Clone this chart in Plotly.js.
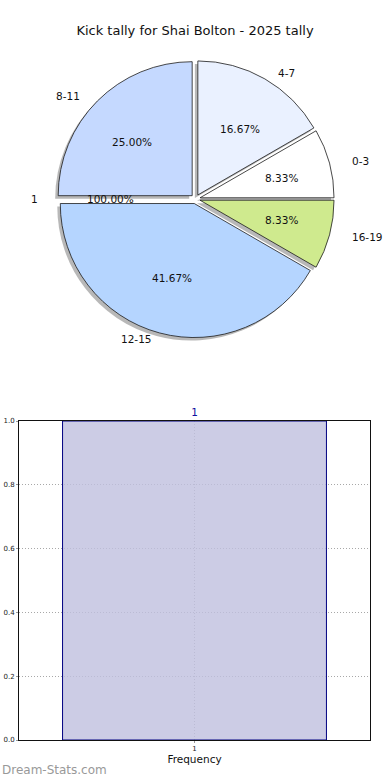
<!DOCTYPE html>
<html>
<head>
<meta charset="utf-8">
<script src="https://cdn.plot.ly/plotly-3.0.1.min.js"></script>
<style>
  html, body { margin: 0; padding: 0; background: #ffffff; }
  #chart { width: 390px; height: 780px; }
</style>
</head>
<body>
<div id="chart"></div>
<script>
// ---- data ----
const sliceLabels = ['0-3', '4-7', '8-11', '12-15', '16-19'];
const sliceValues = [1, 2, 3, 5, 1];
const sliceColors = ['#ffffff', '#eaf1ff', '#c5d9ff', '#b5d5ff', '#cfea8e'];
const extraLabels = ['1'];
const extraValues = [1];
const barX = [1];
const barY = [1];
const barText = ['1'];
const yTickVals = [0, 0.2, 0.4, 0.6, 0.8, 1.0];
const xTickVals = [1];
const xTickText = ['1'];
const titleText = 'Kick tally for Shai Bolton - 2025 tally';

// ---- geometry (layout only) ----
const W = 390, H = 780;
const CX = 195.5, CY = 199;      // pie centre, px
const R = 134;                   // plotted pie radius, px
const RX = 141, RY = 128;        // text placement radii (reference ellipse)
const PULL = 0.035;
const ROT = 60;                  // first slice starts at 3 o'clock, counterclockwise
const FONT = 'DejaVu Sans, Verdana, sans-serif';

const half = R * (1 + PULL);
const pieDomain = {
  x: [(CX - half) / W, (CX + half) / W],
  y: [1 - (CY + half) / H, 1 - (CY - half) / H]
};
const shadowDomain = {
  x: [pieDomain.x[0] - 3 / W, pieDomain.x[1] - 3 / W],
  y: [pieDomain.y[0] - 3 / H, pieDomain.y[1] - 3 / H]
};

const pulls = sliceValues.map(() => PULL);

const shadow = {
  type: 'pie', values: sliceValues, labels: sliceLabels, sort: false,
  direction: 'counterclockwise', rotation: ROT, pull: pulls,
  domain: shadowDomain, textinfo: 'none', hoverinfo: 'skip', showlegend: false,
  marker: { colors: sliceValues.map(() => '#8a8a8a'), line: { width: 0 } },
  opacity: 0.6
};
const pie = {
  type: 'pie', values: sliceValues, labels: sliceLabels, sort: false,
  direction: 'counterclockwise', rotation: ROT, pull: pulls,
  domain: pieDomain, textinfo: 'none', hoverinfo: 'label+percent', showlegend: false,
  marker: { colors: sliceColors, line: { color: '#1a1a1a', width: 0.8 } }
};

const bar = {
  type: 'bar', x: barX, y: barY, width: 0.8, xaxis: 'x', yaxis: 'y',
  marker: { color: 'rgba(191,191,222,0.8)', line: { color: '#000080', width: 1 } },
  text: barText, textposition: 'outside', cliponaxis: false,
  textfont: { family: FONT, size: 10.5, color: '#1010a0' },
  hoverinfo: 'x+y', showlegend: false
};

// ---- pie text annotations (matplotlib style) ----
function pieAnnotations(values, labels, explode) {
  const total = values.reduce((a, b) => a + b, 0);
  const out = [];
  let start = 0;
  values.forEach((v, i) => {
    const frac = v / total;
    const mid = (start + frac / 2) * 2 * Math.PI;
    start += frac;
    const c = Math.cos(mid), s = Math.sin(mid);
    const lx = CX + (explode + 1.1) * RX * c, ly = CY - (explode + 1.1) * RY * s;
    const px = CX + (explode + 0.6) * RX * c, py = CY - (explode + 0.6) * RY * s;
    out.push({
      xref: 'paper', yref: 'paper', x: lx / W, y: 1 - ly / H,
      xanchor: c > 1e-9 ? 'left' : 'right', yanchor: 'middle', showarrow: false,
      text: labels[i], font: { family: FONT, size: 10.5, color: '#111' }
    });
    out.push({
      xref: 'paper', yref: 'paper', x: px / W, y: 1 - py / H,
      xanchor: 'center', yanchor: 'middle', showarrow: false,
      text: (frac * 100).toFixed(2) + '%', font: { family: FONT, size: 10.5, color: '#111' }
    });
  });
  return out;
}

const annotations = []
  .concat(pieAnnotations(extraValues, extraLabels, 0))
  .concat(pieAnnotations(sliceValues, sliceLabels, PULL));

annotations.push({
  xref: 'paper', yref: 'paper', x: 0, y: 1 - 770 / H, xanchor: 'left', yanchor: 'middle',
  showarrow: false, text: 'Dream-Stats.com',
  font: { family: FONT, size: 12, color: '#999999' }
});

const layout = {
  width: W, height: H, autosize: false,
  margin: { l: 0, r: 0, t: 0, b: 0 },
  paper_bgcolor: '#ffffff', plot_bgcolor: '#ffffff',
  font: { family: FONT, color: '#111' },
  title: {
    text: titleText, x: 0.5, xanchor: 'center', y: 1 - 30 / H, yanchor: 'middle',
    font: { family: FONT, size: 13, color: '#111' }
  },
  xaxis: {
    domain: [19 / W, 370 / W], range: [0.468, 1.532], anchor: 'y',
    tickmode: 'array', tickvals: xTickVals, ticktext: xTickText,
    tickfont: { family: FONT, size: 7, color: '#222' },
    ticks: 'outside', ticklen: 2, tickcolor: '#999',
    showgrid: true, gridcolor: '#a8a8a8', griddash: '1px,2px', gridwidth: 1,
    showline: true, linecolor: '#111', linewidth: 1, mirror: true, zeroline: false,
    title: { text: 'Frequency', font: { family: FONT, size: 10.5, color: '#111' }, standoff: 3 }
  },
  yaxis: {
    domain: [1 - 740 / H, 1 - 421 / H], range: [0, 1], anchor: 'x',
    tickmode: 'array', tickvals: yTickVals, tickformat: '.1f',
    tickfont: { family: FONT, size: 7, color: '#222' },
    ticks: 'outside', ticklen: 2, tickcolor: '#999',
    showgrid: true, gridcolor: '#a8a8a8', griddash: '1px,2px', gridwidth: 1,
    showline: true, linecolor: '#111', linewidth: 1, mirror: true, zeroline: false
  },
  annotations: annotations
};

Plotly.newPlot('chart', [shadow, pie, bar], layout, { displayModeBar: false, staticPlot: true });
</script>
</body>
</html>
